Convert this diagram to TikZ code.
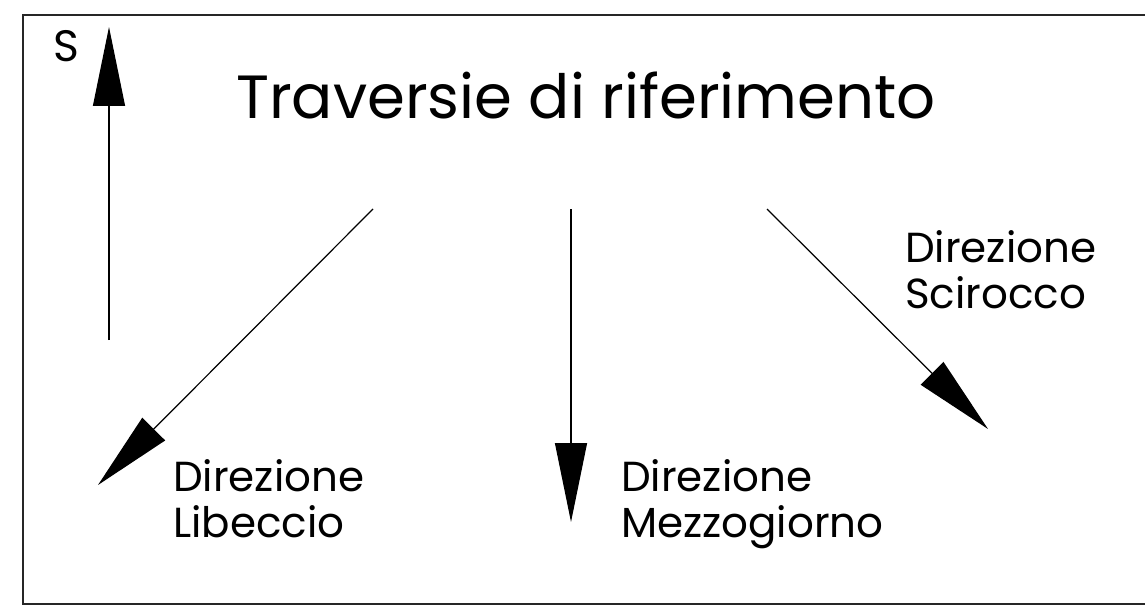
\documentclass[tikz,border=0pt]{standalone}
\usepackage{fontspec}
\setmainfont{Poppins}
\usetikzlibrary{arrows.meta}
\begin{document}
\begin{tikzpicture}[x=1pt,y=-1pt,
  frame/.style={draw=black!85,line width=2pt},
  shaft/.style={draw=black,line width=1.2pt,-{Triangle[length=79pt,width=32pt]}},
  lbl/.style={anchor=base west,inner sep=0pt,font=\fontsize{42}{46}\selectfont},
  ttl/.style={anchor=base west,inner sep=0pt,font=\fontsize{61}{70}\selectfont},
  slbl/.style={anchor=base west,inner sep=0pt,font=\fontsize{44}{48}\selectfont}]
\useasboundingbox (0,0) rectangle (1145,607);
\draw[frame] (1146,15) -- (23,15) -- (23,604) -- (1146,604);
% arrows
\coordinate (s0) at (109,340); \coordinate (s1) at (109,27);
\coordinate (l0) at (373,209); \coordinate (l1) at (98,485);
\coordinate (m0) at (571,209); \coordinate (m1) at (571,522);
\coordinate (c0) at (767,209); \coordinate (c1) at (988,429);
\draw[shaft] (s0) -- (s1);
\draw[shaft] (l0) -- (l1);
\draw[shaft] (m0) -- (m1);
\draw[shaft] (c0) -- (c1);
% texts
\node[slbl] (S) at (53,62) {S};
\node[ttl] (title) at (236,118) {Traversie di riferimento};
\node[lbl] (lib1) at (173,491) {Direzione};
\node[lbl] (lib2) at (173,537) {Libeccio};
\node[lbl] (mez1) at (621,491) {Direzione};
\node[lbl] (mez2) at (621,537) {Mezzogiorno};
\node[lbl] (sci1) at (905,262) {Direzione};
\node[lbl] (sci2) at (905,308) {Scirocco};
\end{tikzpicture}
\end{document}
